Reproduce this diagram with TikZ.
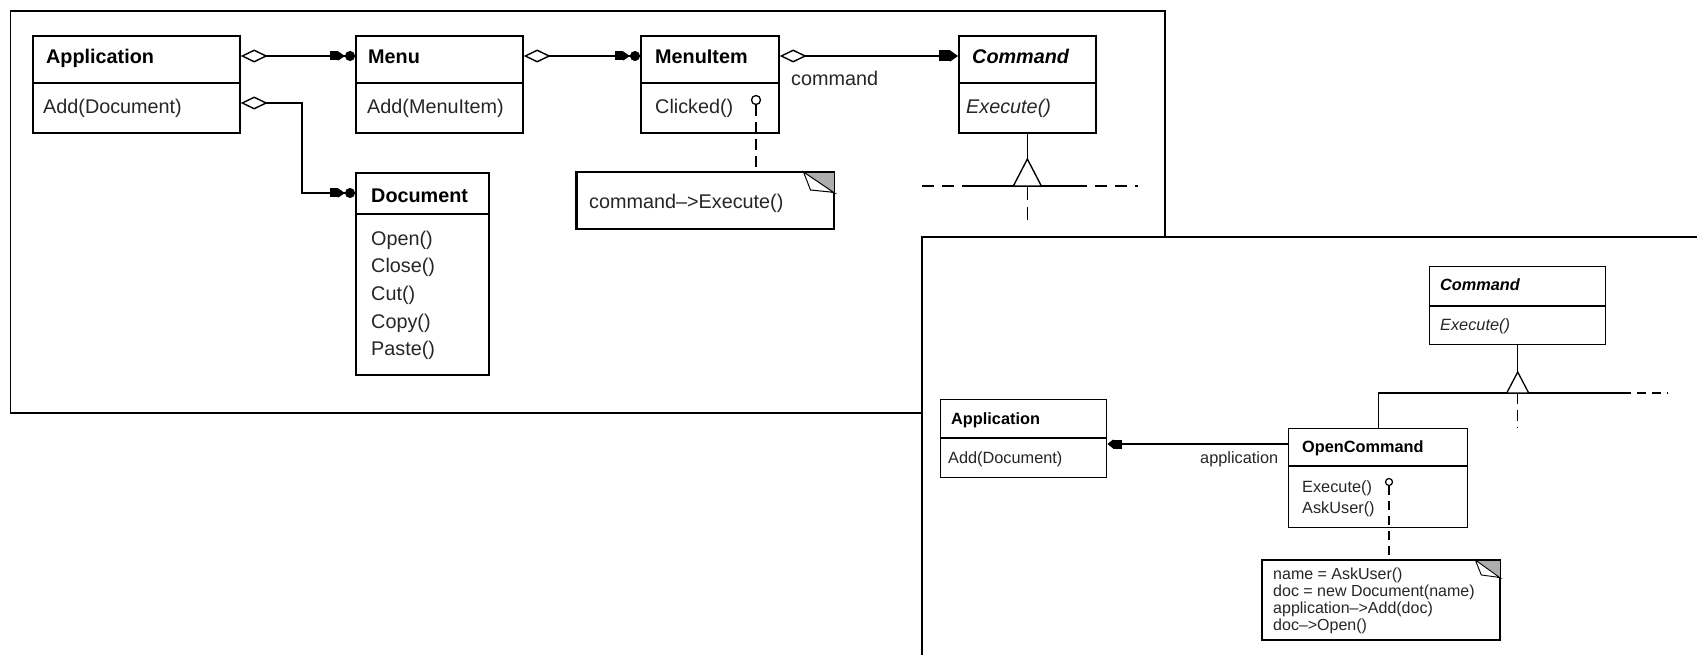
\documentclass[tikz,border=0pt]{standalone}
\usepackage{fontspec}
\setmainfont{Liberation Sans}
\usetikzlibrary{arrows.meta,calc}
\tikzset{
  panel/.style={draw, line width=1.8pt, fill=white, inner sep=0pt, anchor=north west},
  clsA/.style={draw, line width=1.7pt, fill=white, inner sep=0pt, anchor=north west},
  clsB/.style={draw, line width=1.4pt, fill=white, inner sep=0pt, anchor=north west},
  divA/.style={line width=1.7pt},
  divB/.style={line width=1.4pt},
  connA/.style={line width=1.4pt},
  connB/.style={line width=1.3pt},
  dashA/.style={line width=1.4pt, dash pattern=on 12pt off 8pt},
  dashB/.style={line width=1.3pt, dash pattern=on 9pt off 6pt},
  notedash/.style={line width=1.4pt, dash pattern=on 11pt off 6pt},
  aggA/.style={arrows={Diamond[open,length=27pt,width=13pt]}-{Rectangle[length=8pt,width=9pt]Triangle[length=7pt,width=9pt]Circle[length=10pt]}},
  refA/.style={arrows={Diamond[open,length=27pt,width=13pt]}-{Rectangle[length=11pt,width=11pt]Triangle[length=8pt,width=11pt]}},
  refB/.style={arrows=-{Rectangle[length=9pt,width=9pt]Triangle[length=6pt,width=9pt]}},
  lolli/.style={circle, draw, fill=white, inner sep=0pt},
  lbl/.style={inner sep=0pt, anchor=base west},
  blk/.style={inner sep=0pt, anchor=north west, align=left},
  txtA/.style={font=\fontsize{19.8}{27.7}\selectfont, text=black!85},
  ttlA/.style={font=\fontsize{19.8}{24}\selectfont\bfseries, text=black},
  txtB/.style={font=\fontsize{16.3}{21}\selectfont, text=black!85},
  ttlB/.style={font=\fontsize{16.3}{20}\selectfont\bfseries, text=black},
  txtN/.style={font=\fontsize{16}{17}\selectfont, text=black!85},
  corner/.style={fill=black!32},
  flap/.style={fill=white, draw, line width=1pt},
}
\begin{document}
\begin{tikzpicture}[x=1pt,y=-1pt]
\useasboundingbox (0,0) rectangle (1697,655);
\clip (0,0) rectangle (1697,655);

% ---------- panel 1 ----------
\node[panel, minimum width=1154.5pt, minimum height=401.5pt] (p1) at (9.5,10.5) {};

\node[clsA, minimum width=207pt, minimum height=97pt] (app1) at (32,35) {};
\draw[divA] (app1.west |- 0,83) -- (app1.east |- 0,83);
\node[lbl, ttlA] (app1t) at (46,64) {Application};
\node[lbl, txtA] (app1m) at (43,114) {Add(Document)};

\node[clsA, minimum width=167pt, minimum height=97pt] (menu) at (355,35) {};
\draw[divA] (menu.west |- 0,83) -- (menu.east |- 0,83);
\node[lbl, ttlA] (menut) at (368,64) {Menu};
\node[lbl, txtA] (menum) at (367,114) {Add(MenuItem)};

\node[clsA, minimum width=138pt, minimum height=97pt] (item) at (640,35) {};
\draw[divA] (item.west |- 0,83) -- (item.east |- 0,83);
\node[lbl, ttlA] (itemt) at (655,64) {MenuItem};
\node[lbl, txtA] (itemm) at (655,114) {Clicked()};

\node[clsA, minimum width=137pt, minimum height=97pt] (cmd1) at (958,35) {};
\draw[divA] (cmd1.west |- 0,83) -- (cmd1.east |- 0,83);
\node[lbl, ttlA, font=\fontsize{19.8}{24}\selectfont\bfseries\itshape] (cmd1t) at (972,64) {Command};
\node[lbl, txtA, font=\fontsize{19.8}{24}\selectfont\itshape] (cmd1m) at (966,114) {Execute()};

\node[clsA, minimum width=133pt, minimum height=202pt] (doc) at (355,172) {};
\draw[divA] (doc.west |- 0,214) -- (doc.east |- 0,214);
\node[lbl, ttlA] (doct) at (371,203) {Document};
\node[blk, txtA] (docm) at (371,230.5) {Open()\\Close()\\Cut()\\Copy()\\Paste()};

% connectors panel 1
\draw[connA, aggA] (app1.east |- 0,56) -- (menu.west |- 0,56);
\draw[connA, aggA] (app1.east |- 0,103) -- (302,103) |- (doc.west |- 0,193);
\draw[connA, aggA] (menu.east |- 0,56) -- (item.west |- 0,56);
\draw[connA, refA] (item.east |- 0,56) -- (cmd1.west |- 0,56);
\node[lbl, txtA] (cmdlbl) at (791,86) {command};

% note 1
\node[clsA, line width=1.5pt, minimum width=257pt, minimum height=56pt] (note1) at (576,172) {};
\fill[corner] (note1.north east) -- ++(-31,0) -- ($(note1.north east)+(0,21)$) -- cycle;
\draw[flap] ($(note1.north east)+(-31,0)$) -- ($(note1.north east)+(0,21)$) -- ($(note1.north east)+(-4,20)$) -- ($(note1.north east)+(-24,18)$) -- cycle;
\draw[line width=1.5pt] (note1.north west) rectangle (note1.south east);
\node[lbl, txtA] (note1t) at (589,209) {command–>Execute()};
\node[lolli, line width=1.3pt, minimum size=9pt] (lp1) at (756,100) {};
\draw[notedash] (lp1.south) -- (note1.north -| lp1.south);

% inheritance stub panel 1
\coordinate (apex1) at (cmd1.south |- 0,159);
\coordinate (h1) at (cmd1.south |- 0,186);
\coordinate (hl1) at (963,186);
\coordinate (hr1) at (1075,186);
\coordinate (hdl1) at (922,186);
\coordinate (hdr1) at (1138,186);
\coordinate (vs1) at (cmd1.south |- 0,187);
\coordinate (vd1) at (cmd1.south |- 0,223);
\draw[connA] (cmd1.south) -- (apex1);
\draw[connA] (hl1) -- (hr1);
\draw[dashA] (hdl1) -- (hl1);
\draw[dashA] (hr1) -- (hdr1);
\draw[connA, fill=white] (apex1) -- ++(-14,27) -- ++(28,0) -- cycle;
\draw[connA, dash pattern=on 13pt off 7pt] (vs1) -- (vd1);

% ---------- panel 2 ----------
\node[panel, minimum width=820pt, minimum height=440pt] (p2) at (921,236) {};

\node[clsB, minimum width=176pt, minimum height=78pt] (cmd2) at (1429,266) {};
\draw[divB] (cmd2.west |- 0,306) -- (cmd2.east |- 0,306);
\node[lbl, ttlB, font=\fontsize{16.3}{20}\selectfont\bfseries\itshape] (cmd2t) at (1440,290) {Command};
\node[lbl, txtB, font=\fontsize{16.3}{20}\selectfont\itshape] (cmd2m) at (1440,330) {Execute()};

\node[clsB, minimum width=166pt, minimum height=78pt] (app2) at (940,399) {};
\draw[divB] (app2.west |- 0,438) -- (app2.east |- 0,438);
\node[lbl, ttlB] (app2t) at (951,424) {Application};
\node[lbl, txtB] (app2m) at (948,463) {Add(Document)};

\node[clsB, minimum width=179pt, minimum height=99pt] (open) at (1288,428) {};
\draw[divB] (open.west |- 0,466) -- (open.east |- 0,466);
\node[lbl, ttlB] (opent) at (1302,452) {OpenCommand};
\node[blk, txtB] (openm) at (1302,480) {Execute()\\AskUser()};

\draw[connB, refB] (open.west |- 0,444) -- (app2.east |- 0,444);
\node[lbl, txtB] (applbl) at (1200,463) {application};

% inheritance panel 2
\coordinate (apex2) at (cmd2.south |- 0,372);
\coordinate (h2) at (cmd2.south |- 0,393);
\coordinate (j2) at (open.north |- 0,393);
\coordinate (hr2) at (1622,393);
\coordinate (hdr2) at (1668,393);
\coordinate (vd2) at (cmd2.south |- 0,428);
\draw[connB] (cmd2.south) -- (apex2);
\draw[connB] (open.north) -- (j2) -- (hr2);
\draw[dashB] (hr2) -- (hdr2);
\draw[connB, fill=white] (apex2) -- ++(-11,21) -- ++(22,0) -- cycle;
\draw[connB, dash pattern=on 11pt off 6pt] (h2) -- (vd2);

% note 2
\node[clsB, line width=1.3pt, minimum width=237pt, minimum height=79pt] (note2) at (1262,560) {};
\fill[corner] (note2.north east) -- ++(-25,0) -- ($(note2.north east)+(0,18)$) -- cycle;
\draw[flap, line width=0.9pt] ($(note2.north east)+(-25,0)$) -- ($(note2.north east)+(0,18)$) -- ($(note2.north east)+(-4,17)$) -- ($(note2.north east)+(-19,15)$) -- cycle;
\draw[line width=1.3pt] (note2.north west) rectangle (note2.south east);
\node[blk, txtN] (note2t) at (1273,567.5) {name = AskUser()\\doc = new Document(name)\\application–>Add(doc)\\doc–>Open()};
\node[lolli, line width=1.2pt, minimum size=7pt] (lp2) at (1389,482) {};
\draw[dashB] (lp2.south) -- (note2.north -| lp2.south);
\end{tikzpicture}
\end{document}
